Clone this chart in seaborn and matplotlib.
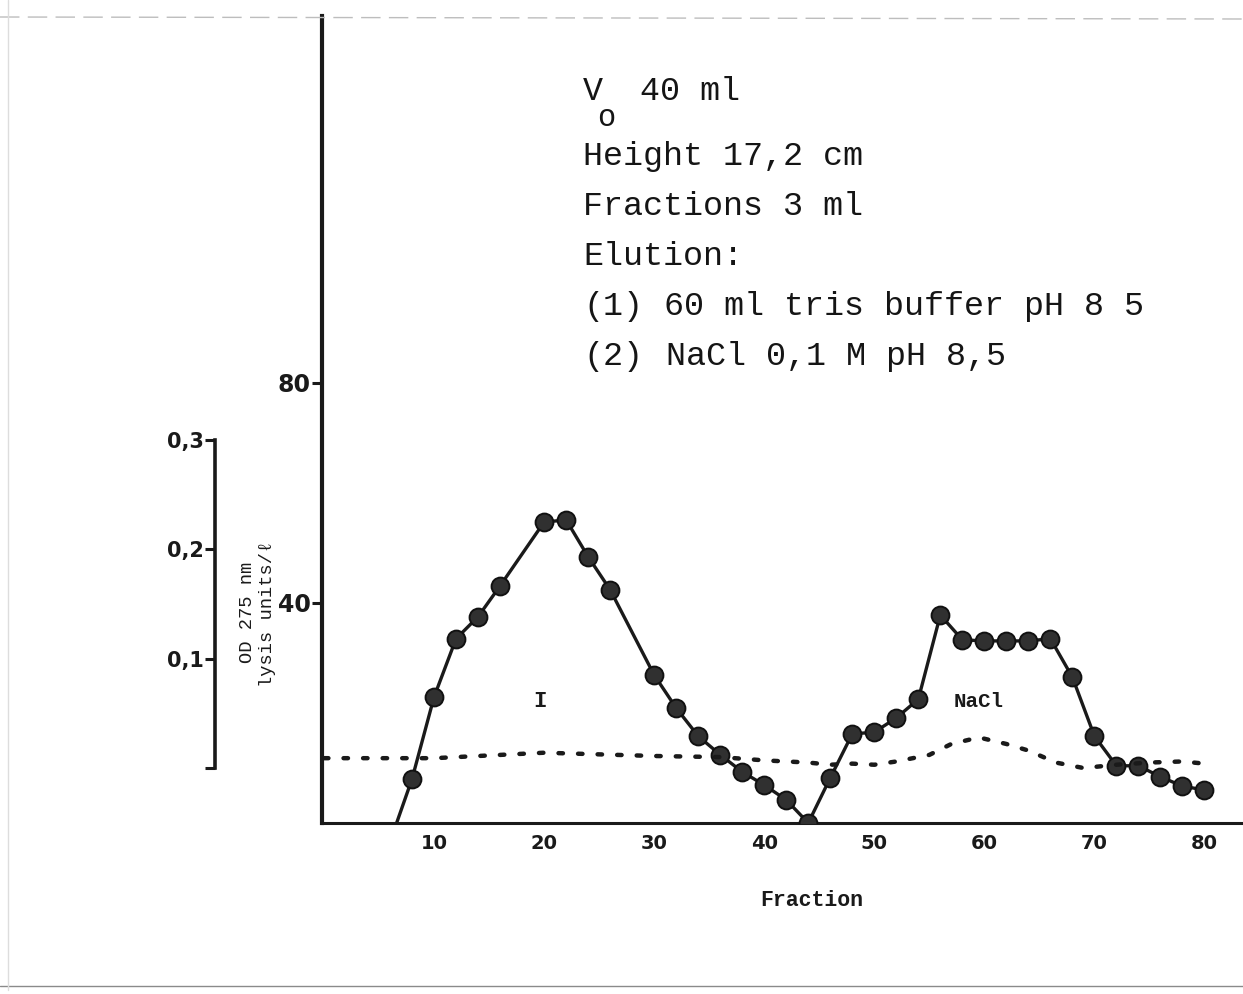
import matplotlib
matplotlib.use("Agg")
import matplotlib.pyplot as plt
from matplotlib.lines import Line2D
import seaborn as sns
import pandas as pd

# Lysis activity per fraction (lysis units / l)
fraction = [8, 10, 12, 14, 16, 20, 22, 24, 26, 30, 32, 34, 36, 38, 40, 42, 44,
            46, 48, 50, 52, 54, 56, 58, 60, 62, 64, 66, 68, 70, 72, 74, 76, 78, 80]
lysis = [8.0, 22.9, 33.5, 37.5, 43.1, 54.7, 55.1, 48.4, 42.4, 26.9, 20.9, 15.8,
         12.4, 9.3, 6.9, 4.2, 0.0, 8.2, 16.2, 16.5, 19.1, 22.5, 37.8, 33.3,
         33.1, 33.1, 33.1, 33.5, 26.5, 15.8, 10.4, 10.4, 8.4, 6.7, 6.0]
# the activity trace starts on the baseline before the first sample
trace_start_fraction = 6.6
trace_start_lysis = 0.0

# Optical density at 275 nm (dotted trace)
od_fraction = [0, 10, 20, 30, 36, 40, 44, 46, 48, 50, 52, 55, 57, 59.5, 62,
               64, 66.5, 69, 72, 75, 78, 80]
od_275 = [0.009, 0.009, 0.014, 0.011, 0.010, 0.007, 0.005, 0.003, 0.004,
          0.003, 0.006, 0.012, 0.022, 0.028, 0.022, 0.016, 0.005, 0.000,
          0.003, 0.005, 0.006, 0.004]

x_ticks = [10, 20, 30, 40, 50, 60, 70, 80]
y_ticks = [40, 80]
od_ticks = [0.0, 0.1, 0.2, 0.3]
od_tick_labels = ["", "0,1", "0,2", "0,3"]

notes = ["Height 17,2 cm", "Fractions 3 ml", "Elution:"]

sns.set_theme(style="white")
plt.rcParams["font.family"] = ["DejaVu Sans"]

W, H = 1243, 994
fig = plt.figure(figsize=(W / 100, H / 100), dpi=100)
fig.patch.set_facecolor("white")


def fx(px):
    return px / W


def fy(py):
    return 1 - py / H


ax = fig.add_axes([fx(322), fy(823), (W - 322) / W, (823 - 16) / H])
ax.set_facecolor("none")
ax.set_xlim(-0.18, 83.5)
ax.set_ylim(0, 146.7)

ink = "#1a1a1a"
hand = dict(family="DejaVu Sans", weight="bold", color=ink)
mono = ["Liberation Mono", "DejaVu Sans Mono"]

trace = pd.DataFrame({
    "fraction": [trace_start_fraction] + fraction,
    "lysis": [trace_start_lysis] + lysis,
})
samples = pd.DataFrame({"fraction": fraction, "lysis": lysis})

sns.lineplot(data=trace, x="fraction", y="lysis", ax=ax, sort=False,
             color=ink, linewidth=2.4, zorder=3)
sns.scatterplot(data=samples, x="fraction", y="lysis", ax=ax, s=165,
                color="#303030", edgecolor="#111111", linewidth=1.4, zorder=4)

for side in ("top", "right"):
    ax.spines[side].set_visible(False)
ax.spines["left"].set_linewidth(3.0)
ax.spines["left"].set_color(ink)
ax.spines["bottom"].set_linewidth(2.2)
ax.spines["bottom"].set_color(ink)

ax.set_xticks(x_ticks)
ax.set_xticklabels([str(t) for t in x_ticks], fontsize=14, **hand)
ax.tick_params(axis="x", length=0, pad=8)
ax.set_yticks(y_ticks)
ax.set_yticklabels([str(t) for t in y_ticks], fontsize=17, **hand)
ax.tick_params(axis="y", direction="out", length=7, width=2.2, color=ink, pad=1, left=True)
ax.set_xlabel("")
ax.set_ylabel("")

# OD scale, drawn as a short bracket axis further left
ax2 = ax.twinx()
ax2.set_facecolor("none")
ax2.set_ylim(-0.0503, 0.688)
sns.lineplot(x=od_fraction, y=od_275, ax=ax2, color=ink, linewidth=3.2,
             linestyle=(0, (1.0, 3.4)), dash_capstyle="round", zorder=2)
for side in ("top", "right", "bottom"):
    ax2.spines[side].set_visible(False)
ax2.spines["left"].set_visible(True)
ax2.spines["left"].set_position(("outward", (322 - 215) * 0.72))
ax2.spines["left"].set_bounds(0, 0.3)
ax2.spines["left"].set_linewidth(2.6)
ax2.spines["left"].set_color(ink)
ax2.yaxis.tick_left()
ax2.set_yticks(od_ticks)
ax2.set_yticklabels(od_tick_labels, fontsize=15, **hand)
ax2.tick_params(axis="y", direction="out", length=7, width=2.2, color=ink, pad=1,
                left=True, right=False, labelleft=True, labelright=False)
ax2.set_ylabel("")

# axis titles
fig.text(fx(247), fy(612), "OD 275 nm", rotation=90, ha="center", va="center",
         fontsize=13.5, family=mono, color=ink)
fig.text(fx(267), fy(614), "lysis units/ℓ", rotation=90, ha="center", va="center",
         fontsize=13.5, family=mono, color=ink)
fig.text(fx(812), fy(901), "Fraction", ha="center", va="center",
         fontsize=15.5, family=mono, weight="bold", color=ink)

# peak labels
ax.text(19.6, 22, "I", ha="center", va="center", fontsize=16, family=mono,
        weight="bold", color=ink)
ax.text(59.5, 22, "NaCl", ha="center", va="center", fontsize=15, family=mono,
        weight="bold", color=ink)

# column conditions
txt = dict(family=mono, fontsize=24, color="#151515", va="baseline", ha="left")
fig.text(fx(583), fy(100), "V", **txt)
fig.text(fx(597), fy(126), "o", **{**txt, "fontsize": 22})
fig.text(fx(640), fy(100), "40 ml", **txt)
for i, line in enumerate(notes):
    fig.text(fx(583), fy(165 + 50 * i), line, **txt)
fig.text(fx(583), fy(315), "(1)", **txt)
fig.text(fx(664), fy(315), "60 ml tris buffer pH 8 5", **txt)
fig.text(fx(583), fy(365), "(2)", **txt)
fig.text(fx(666), fy(365), "NaCl 0,1 M pH 8,5", **txt)

# page edges of the printed sheet
edge = dict(transform=fig.transFigure, color="#bdbdbd", linewidth=1.0)
fig.add_artist(Line2D([0, 1], [fy(17), fy(19)], linestyle=(0, (14, 6)), **edge))
fig.add_artist(Line2D([0, 1], [fy(986), fy(986)], **{**edge, "color": "#8a8a8a"}))
fig.add_artist(Line2D([fx(8), fx(8)], [fy(0), fy(990)], **{**edge, "color": "#dddddd"}))

fig.savefig("out.png", dpi=100, facecolor="white")
